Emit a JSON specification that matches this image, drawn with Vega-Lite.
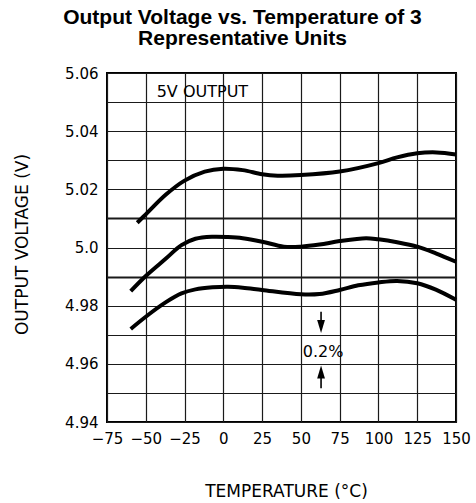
{
  "$schema": "https://vega.github.io/schema/vega-lite/v6.json",
  "width": 349,
  "height": 349,
  "autosize": {"type": "none"},
  "padding": {"left": 107, "top": 73, "right": 20, "bottom": 81},
  "background": "white",
  "title": {
    "text": ["Output Voltage vs. Temperature of 3", "Representative Units"],
    "font": "Liberation Sans",
    "fontSize": 21,
    "fontWeight": "bold",
    "lineHeight": 21.5,
    "color": "black",
    "anchor": "middle",
    "frame": "group",
    "dx": -39,
    "offset": 17
  },
  "config": {
    "view": {"stroke": "black", "strokeWidth": 2},
    "axis": {
      "domain": false,
      "ticks": false,
      "grid": true,
      "gridColor": "#1a1a1a",
      "gridWidth": 1.2,
      "gridOpacity": 1,
      "labelFont": "DejaVu Sans",
      "labelFontSize": 15,
      "labelColor": "black",
      "labelOverlap": false,
      "labelFlush": false,
      "titleFont": "DejaVu Sans",
      "titleFontSize": 17,
      "titleFontWeight": "normal",
      "titleColor": "black"
    }
  },
  "datasets": {
    "curves": [
      {"unit": "A", "t": -55.5, "v": 5.0085},
      {"unit": "A", "t": -50, "v": 5.0114},
      {"unit": "A", "t": -37, "v": 5.0182},
      {"unit": "A", "t": -25, "v": 5.0230},
      {"unit": "A", "t": -12, "v": 5.0261},
      {"unit": "A", "t": 0, "v": 5.0271},
      {"unit": "A", "t": 12.5, "v": 5.0266},
      {"unit": "A", "t": 25, "v": 5.0252},
      {"unit": "A", "t": 35, "v": 5.0247},
      {"unit": "A", "t": 50, "v": 5.0249},
      {"unit": "A", "t": 75, "v": 5.0261},
      {"unit": "A", "t": 100, "v": 5.029},
      {"unit": "A", "t": 112, "v": 5.031},
      {"unit": "A", "t": 125, "v": 5.0324},
      {"unit": "A", "t": 137.5, "v": 5.0327},
      {"unit": "A", "t": 150, "v": 5.032},
      {"unit": "B", "t": -59.7, "v": 4.985},
      {"unit": "B", "t": -50, "v": 4.9902},
      {"unit": "B", "t": -37, "v": 4.9962},
      {"unit": "B", "t": -27, "v": 5.0008},
      {"unit": "B", "t": -18, "v": 5.0030},
      {"unit": "B", "t": -7, "v": 5.0037},
      {"unit": "B", "t": 3, "v": 5.0036},
      {"unit": "B", "t": 12.5, "v": 5.0032},
      {"unit": "B", "t": 25, "v": 5.002},
      {"unit": "B", "t": 39, "v": 5.0003},
      {"unit": "B", "t": 50, "v": 5.0003},
      {"unit": "B", "t": 62, "v": 5.001},
      {"unit": "B", "t": 75, "v": 5.0022},
      {"unit": "B", "t": 92, "v": 5.0032},
      {"unit": "B", "t": 100, "v": 5.0028},
      {"unit": "B", "t": 112, "v": 5.0018},
      {"unit": "B", "t": 125, "v": 5.0003},
      {"unit": "B", "t": 137, "v": 4.998},
      {"unit": "B", "t": 150, "v": 4.9951},
      {"unit": "C", "t": -59.7, "v": 4.972},
      {"unit": "C", "t": -50, "v": 4.9762},
      {"unit": "C", "t": -37, "v": 4.9812},
      {"unit": "C", "t": -27, "v": 4.9842},
      {"unit": "C", "t": -18, "v": 4.9856},
      {"unit": "C", "t": -7, "v": 4.9863},
      {"unit": "C", "t": 3, "v": 4.9865},
      {"unit": "C", "t": 12.5, "v": 4.9862},
      {"unit": "C", "t": 25, "v": 4.9854},
      {"unit": "C", "t": 50, "v": 4.9839},
      {"unit": "C", "t": 62, "v": 4.984},
      {"unit": "C", "t": 75, "v": 4.9854},
      {"unit": "C", "t": 87, "v": 4.987},
      {"unit": "C", "t": 100, "v": 4.988},
      {"unit": "C", "t": 112, "v": 4.9885},
      {"unit": "C", "t": 125, "v": 4.9877},
      {"unit": "C", "t": 137, "v": 4.9855},
      {"unit": "C", "t": 150, "v": 4.982}
    ],
    "labels": [
      {"label": "5V OUTPUT", "t": -13.5, "v": 5.0536},
      {"label": "0.2%", "t": 64.3, "v": 4.9641}
    ],
    "shafts": [
      {"t": 63, "v1": 4.9779, "v2": 4.9728},
      {"t": 63, "v1": 4.9572, "v2": 4.9516}
    ],
    "heads": [
      {"dir": "down", "t": 63, "v": 4.9728},
      {"dir": "up", "t": 63, "v": 4.9572}
    ]
  },
  "encoding": {
    "x": {
      "field": "t",
      "type": "quantitative",
      "scale": {"domain": [-75, 150], "nice": false, "zero": false},
      "axis": {
        "title": "TEMPERATURE (°C)",
        "values": [-75, -50, -25, 0, 25, 50, 75, 100, 125, 150],
        "labelPadding": 9,
        "titleX": 179,
        "titleY": 69,
        "titleAlign": "center",
        "titleBaseline": "middle"
      }
    },
    "y": {
      "field": "v",
      "type": "quantitative",
      "scale": {"domain": [4.94, 5.06], "nice": false, "zero": false},
      "axis": {
        "title": "OUTPUT VOLTAGE (V)",
        "values": [4.94, 4.95, 4.96, 4.97, 4.98, 4.99, 5.0, 5.01, 5.02, 5.03, 5.04, 5.05, 5.06],
        "labelExpr": "round(datum.value*100) % 2 == 0 ? (abs(datum.value - 5) < 0.0001 ? '5.0' : format(datum.value, '.2f')) : ''",
        "gridWidth": {"condition": {"test": "abs(datum.value - 5.01) < 0.0001 || abs(datum.value - 4.99) < 0.0001", "value": 1.8}, "value": 1.2},
        "labelPadding": 9,
        "titleX": -85,
        "titleY": 171,
        "titleAlign": "center",
        "titleBaseline": "middle",
        "titleAngle": -90
      }
    }
  },
  "layer": [
    {
      "data": {"name": "curves"},
      "mark": {"type": "line", "color": "black", "strokeWidth": 4, "interpolate": "catmull-rom", "strokeCap": "butt"},
      "encoding": {"detail": {"field": "unit", "type": "nominal"}}
    },
    {
      "data": {"name": "labels"},
      "mark": {"type": "text", "font": "DejaVu Sans", "fontSize": 16, "color": "black", "baseline": "middle", "align": "center"},
      "encoding": {
        "text": {"field": "label"}
      }
    },
    {
      "data": {"name": "shafts"},
      "mark": {"type": "rule", "color": "black", "strokeWidth": 1.6},
      "encoding": {
        "y": {"field": "v1", "type": "quantitative"},
        "y2": {"field": "v2"}
      }
    },
    {
      "data": {"name": "heads"},
      "mark": {"type": "point", "filled": true, "color": "black", "opacity": 1, "size": 169},
      "encoding": {
        "shape": {
          "field": "dir",
          "type": "nominal",
          "scale": {"domain": ["down", "up"], "range": ["M-0.6,-1L0.6,-1L0,1Z", "M-0.6,1L0.6,1L0,-1Z"]},
          "legend": null
        }
      }
    }
  ]
}
